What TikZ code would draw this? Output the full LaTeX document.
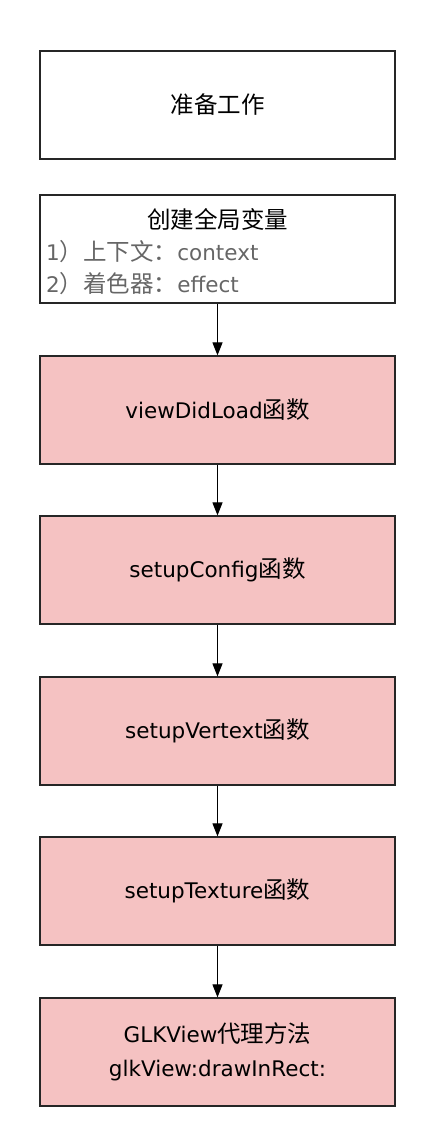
\documentclass[tikz,border=0pt]{standalone}
\usepackage{fontspec}
\setmainfont{DejaVu Sans}
\newfontfamily\cjk{Noto Sans CJK SC}
\usetikzlibrary{arrows.meta}
\definecolor{pinkfill}{RGB}{245,194,194}
\definecolor{graytext}{RGB}{102,102,102}
\newcommand{\zh}[1]{{\cjk\fontsize{23.5}{34}\selectfont #1}}
\tikzset{
  box/.style={draw=black!85, line width=1.2pt, minimum width=355pt, minimum height=108pt, inner sep=0pt, font=\fontsize{21.5}{34}\selectfont, align=center},
  pinkbox/.style={box, fill=pinkfill},
  flow/.style={line width=1pt, -{Triangle[width=10pt,length=13pt]}},
  itemtext/.style={anchor=west, text=graytext, font=\fontsize{21.5}{34}\selectfont, inner sep=0pt}
}
\begin{document}
\begin{tikzpicture}[x=1pt,y=-1pt]
\useasboundingbox (0,0) rectangle (442,1142);
\node[box] (prep) at (217.5,105) {\zh{准备工作}};
\node[box] (glob) at (217.5,249) {};
\node[anchor=center, inner sep=0pt] (globtitle) at (217.5,219) {\zh{创建全局变量}};
\node[itemtext] (ctx) at (46,252) {1\zh{）上下文：}context};
\node[itemtext] (eff) at (46,284) {2\zh{）着色器：}effect};
\node[pinkbox] (vdl) at (217.5,410) {viewDidLoad\zh{函数}};
\node[pinkbox] (cfg) at (217.5,570) {setupConfig\zh{函数}};
\node[pinkbox] (vtx) at (217.5,731) {setupVertext\zh{函数}};
\node[pinkbox] (tex) at (217.5,891) {setupTexture\zh{函数}};
\node[pinkbox] (glk) at (217.5,1052) {GLKView\zh{代理方法}\\glkView:drawInRect:};
\draw[flow] (glob) -- (vdl);
\draw[flow] (vdl) -- (cfg);
\draw[flow] (cfg) -- (vtx);
\draw[flow] (vtx) -- (tex);
\draw[flow] (tex) -- (glk);
\end{tikzpicture}
\end{document}
